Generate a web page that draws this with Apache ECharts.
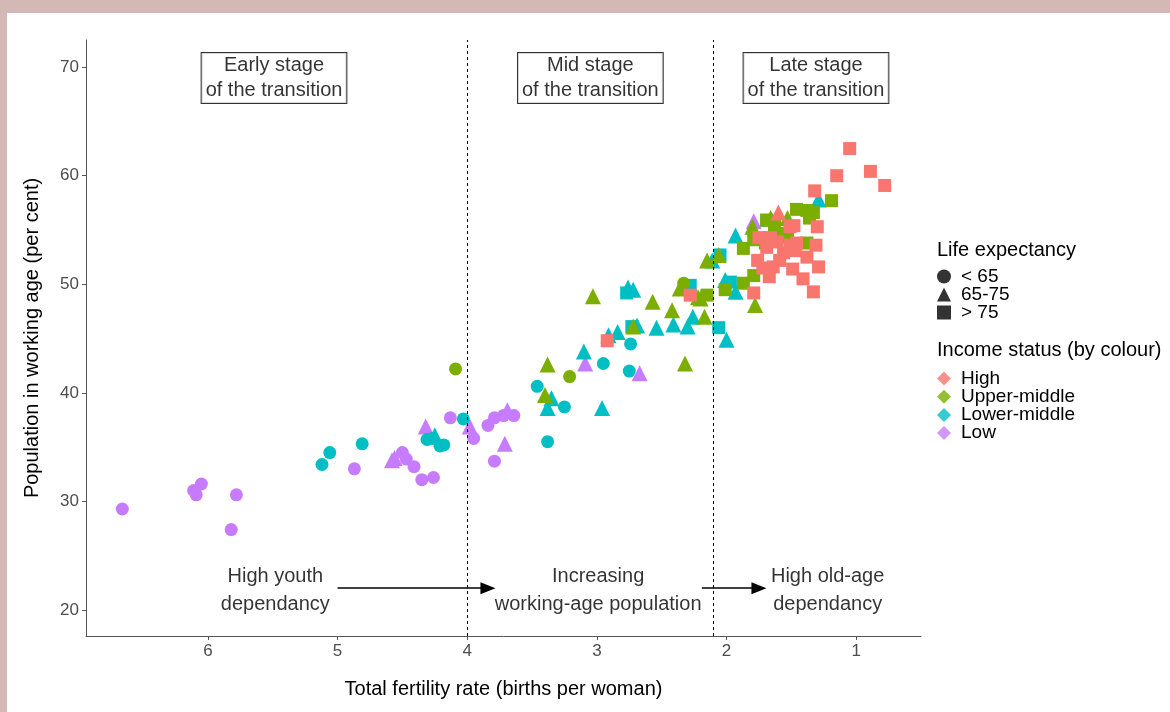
<!DOCTYPE html>
<html>
<head>
<meta charset="utf-8">
<script src="https://cdn.jsdelivr.net/npm/echarts@6/dist/echarts.min.js"></script>
<style>
  body { margin: 0; background: #d4b8b6; }
  #panel { position: absolute; left: 7px; top: 13px; width: 1163px; height: 699px; background: #fff; }
  #main { position: absolute; left: 0; top: 0; width: 1170px; height: 712px; }
</style>
</head>
<body>
<div id="panel"></div>
<div id="main"></div>
<script>
// life expectancy class: 0 = < 65, 1 = 65-75, 2 = > 75
const lifeClasses = ['< 65', '65-75', '> 75'];
const incomeGroups = ['High', 'Upper-middle', 'Lower-middle', 'Low'];

// [fertility, working age %, life class]
const low = [
  [6.66, 29.3, 0], [6.11, 31.0, 0], [6.09, 30.6, 0], [6.05, 31.6, 0], [5.78, 30.6, 0], [5.82, 27.4, 0],
  [4.87, 33.0, 0], [4.50, 34.5, 0], [4.47, 33.9, 0], [4.41, 33.2, 0], [4.35, 32.0, 0], [4.26, 32.2, 0],
  [4.13, 37.7, 0], [3.95, 35.8, 0], [3.84, 37.0, 0], [3.79, 37.7, 0], [3.72, 37.9, 0], [3.64, 37.9, 0],
  [3.79, 33.7, 0],
  [4.58, 33.8, 1], [4.56, 34.0, 1], [4.32, 36.9, 1], [3.98, 36.9, 1], [3.69, 38.4, 1], [3.71, 35.3, 1],
  [3.09, 42.7, 1], [2.67, 41.8, 1], [1.79, 55.8, 1]
];
const lowerMiddle = [
  [5.12, 33.4, 0], [5.06, 34.5, 0], [4.81, 35.3, 0], [4.31, 35.7, 0], [4.27, 35.8, 0], [4.21, 35.1, 0],
  [4.18, 35.2, 0], [4.03, 37.6, 0], [3.46, 40.6, 0], [3.38, 35.5, 0], [3.25, 38.7, 0], [2.95, 42.7, 0],
  [2.75, 42.0, 0], [2.74, 44.5, 0],
  [4.25, 36.1, 1], [3.38, 38.6, 1], [3.35, 39.5, 1], [3.10, 43.8, 1], [2.96, 38.6, 1], [2.91, 45.3, 1],
  [2.84, 45.6, 1], [2.76, 49.7, 1], [2.72, 49.5, 1], [2.69, 46.2, 1], [2.54, 46.0, 1], [2.41, 46.3, 1],
  [2.30, 46.1, 1], [2.26, 47.0, 1], [2.00, 44.9, 1], [2.01, 50.4, 1], [1.93, 49.3, 1], [1.93, 54.5, 1],
  [2.11, 52.2, 1], [1.29, 57.8, 1],
  [2.77, 49.2, 2], [2.73, 46.1, 2], [2.28, 49.9, 2], [2.06, 46.0, 2], [1.97, 50.2, 2], [2.05, 52.7, 2],
  [1.69, 55.9, 2]
];
const upperMiddle = [
  [4.09, 42.2, 0], [3.21, 41.5, 0], [2.33, 50.1, 0],
  [3.03, 48.9, 1], [3.38, 42.6, 1], [3.40, 39.8, 1], [2.57, 48.4, 1], [2.42, 47.6, 1], [2.32, 42.7, 1],
  [2.17, 47.0, 1], [2.36, 49.6, 1], [2.20, 48.7, 1], [2.72, 46.1, 1], [1.78, 48.1, 1], [1.66, 56.1, 1],
  [1.80, 55.3, 1], [1.53, 56.1, 1], [1.59, 54.5, 1], [2.06, 52.7, 1], [2.15, 52.2, 1], [2.22, 48.8, 1],
  [2.15, 49.0, 2], [1.87, 50.1, 2], [1.19, 57.7, 2], [1.38, 56.8, 2], [1.46, 56.9, 2], [1.33, 56.6, 2],
  [1.36, 56.1, 2], [1.63, 55.0, 2], [1.53, 54.7, 2], [1.87, 53.3, 2], [1.79, 54.1, 2], [1.70, 53.8, 2],
  [1.38, 53.8, 2], [1.79, 50.8, 2], [2.01, 49.5, 2], [1.63, 55.6, 2], [1.69, 55.9, 2]
];
const high = [
  [1.05, 62.5, 2], [1.15, 60.0, 2], [0.89, 60.4, 2], [0.78, 59.1, 2], [1.32, 58.6, 2], [1.30, 55.3, 2],
  [1.48, 55.4, 2], [1.51, 55.3, 2], [1.75, 54.3, 2], [1.69, 53.4, 2], [1.51, 53.6, 2], [1.31, 53.6, 2],
  [1.38, 52.5, 2], [1.29, 51.6, 2], [1.49, 51.4, 2], [1.41, 50.5, 2], [1.33, 49.3, 2], [1.67, 50.7, 2],
  [1.76, 52.2, 2], [1.79, 49.2, 2], [1.59, 52.2, 2], [1.64, 51.6, 2], [1.72, 51.5, 2], [1.47, 53.1, 2],
  [1.56, 52.9, 2], [1.61, 53.9, 2], [1.66, 54.3, 2], [1.46, 53.8, 2], [2.92, 44.8, 2], [2.28, 49.0, 2],
  [1.60, 56.6, 1]
];

const xTicks = [1, 2, 3, 4, 5, 6];
const yTicks = [20, 30, 40, 50, 60, 70];
const stageLines = [4, 2.1];
const stageBoxes = [
  [5.49, 69.0, 'Early stage\nof the transition'],
  [3.05, 69.0, 'Mid stage\nof the transition'],
  [1.31, 69.0, 'Late stage\nof the transition']
];
const bottomNotes = [
  [5.48, 21.8, 'High youth\ndependancy'],
  [2.99, 21.8, 'Increasing\nworking-age population'],
  [1.22, 21.8, 'High old-age\ndependancy']
];
const arrows = [[5.0, 3.84, 22.0], [2.19, 1.75, 22.0]];

const FONT = '"Liberation Sans", Arial, sans-serif';
const colors = { 'High': '#F8766D', 'Upper-middle': '#7CAE00', 'Lower-middle': '#00BFC4', 'Low': '#C77CFF' };
const shapes = ['circle', 'triangle', 'rect'];
const sizes = [13, 16, 13];

const chart = echarts.init(document.getElementById('main'));

let series = [];
const groups = [['Low', low], ['Lower-middle', lowerMiddle], ['Upper-middle', upperMiddle], ['High', high]];
groups.forEach(function (g) {
  [0, 1, 2].forEach(function (k) {
    series.push({
      name: g[0] + ' ' + k,
      type: 'scatter',
      symbol: shapes[k],
      symbolSize: sizes[k],
      itemStyle: { color: colors[g[0]], opacity: 1 },
      data: g[1].filter(d => d[2] === k).map(d => [d[0], d[1]]),
      silent: true
    });
  });
});

// legend-only series
lifeClasses.forEach(function (n, k) {
  series.push({ name: n, type: 'scatter', symbol: shapes[k], itemStyle: { color: '#000' }, data: [] });
});
incomeGroups.forEach(function (n) {
  series.push({ name: n, type: 'scatter', symbol: 'diamond', itemStyle: { color: colors[n] }, data: [] });
});

// stage boxes, notes, dividing lines and arrows
series.push({
  name: 'boxes', type: 'scatter', symbolSize: 1, silent: true,
  itemStyle: { color: 'transparent' },
  data: stageBoxes,
  label: {
    show: true, position: 'inside', formatter: p => p.value[2],
    fontFamily: FONT, fontSize: 20, color: '#000', lineHeight: 25,
    backgroundColor: '#fff', borderColor: '#000', borderWidth: 1, padding: [0, 4, 0, 4]
  },
  markLine: {
    silent: true, symbol: 'none', label: { show: false },
    lineStyle: { color: '#000', type: [3, 3], width: 1 },
    data: stageLines.map(v => ({ xAxis: v }))
  },
  z: 5
});
series.push({
  name: 'notes', type: 'scatter', symbolSize: 1, silent: true,
  itemStyle: { color: 'transparent' },
  data: bottomNotes,
  label: {
    show: true, position: 'inside', formatter: p => p.value[2],
    fontFamily: FONT, fontSize: 20, color: '#000', lineHeight: 28
  },
  markLine: {
    silent: true, symbol: ['none', 'triangle'], symbolSize: [12, 15], label: { show: false },
    lineStyle: { color: '#000', type: 'solid', width: 1.6 },
    data: arrows.map(a => [{ coord: [a[0], a[2]] }, { coord: [a[1], a[2]] }])
  },
  z: 5
});

const option = {
  animation: false,
  textStyle: { fontFamily: FONT },
  grid: { left: 86, right: 249, top: 40, bottom: 76 },
  xAxis: {
    type: 'value', inverse: true, min: 0.5, max: 6.94,
    name: 'Total fertility rate (births per woman)', nameLocation: 'middle', nameGap: 43,
    nameTextStyle: { fontSize: 20, color: '#000', fontFamily: FONT },
    axisLine: { onZero: false, lineStyle: { color: '#555', width: 1 } },
    axisTick: { show: true, length: 4, customValues: xTicks, lineStyle: { color: '#555' } },
    axisLabel: { customValues: xTicks, fontSize: 17, color: '#4d4d4d', margin: 7, fontFamily: FONT },
    splitLine: { show: false }
  },
  yAxis: {
    type: 'value', min: 17.6, max: 72.5,
    name: 'Population in working age (per cent)', nameLocation: 'middle', nameGap: 44,
    nameTextStyle: { fontSize: 20, color: '#000', fontFamily: FONT },
    axisLine: { show: true, onZero: false, lineStyle: { color: '#555', width: 1 } },
    axisTick: { show: true, length: 4, customValues: yTicks, lineStyle: { color: '#555' } },
    axisLabel: { customValues: yTicks, fontSize: 17, color: '#4d4d4d', margin: 7, fontFamily: FONT },
    splitLine: { show: false }
  },
  title: [
    { text: 'Life expectancy', left: 937, top: 240, padding: 0, textStyle: { fontSize: 20, fontWeight: 'normal', color: '#000', fontFamily: FONT } },
    { text: 'Income status (by colour)', left: 937, top: 340, padding: 0, textStyle: { fontSize: 20, fontWeight: 'normal', color: '#000', fontFamily: FONT } }
  ],
  legend: [
    {
      data: lifeClasses, orient: 'vertical', left: 937, top: 267, padding: 0, selectedMode: false,
      itemWidth: 14, itemHeight: 14, itemGap: -1,
      textStyle: { fontSize: 19, lineHeight: 17, color: '#000', fontFamily: FONT, padding: [0, 0, 0, 5] }
    },
    {
      data: incomeGroups.map(n => ({ name: n, icon: 'diamond' })), orient: 'vertical', left: 937, top: 369,
      padding: 0, selectedMode: false, itemWidth: 14, itemHeight: 14, itemGap: -0.8,
      textStyle: { fontSize: 19, lineHeight: 17, color: '#000', fontFamily: FONT, padding: [0, 0, 0, 5] }
    }
  ],
  series: series
};
chart.setOption(option);
</script>
</body>
</html>
